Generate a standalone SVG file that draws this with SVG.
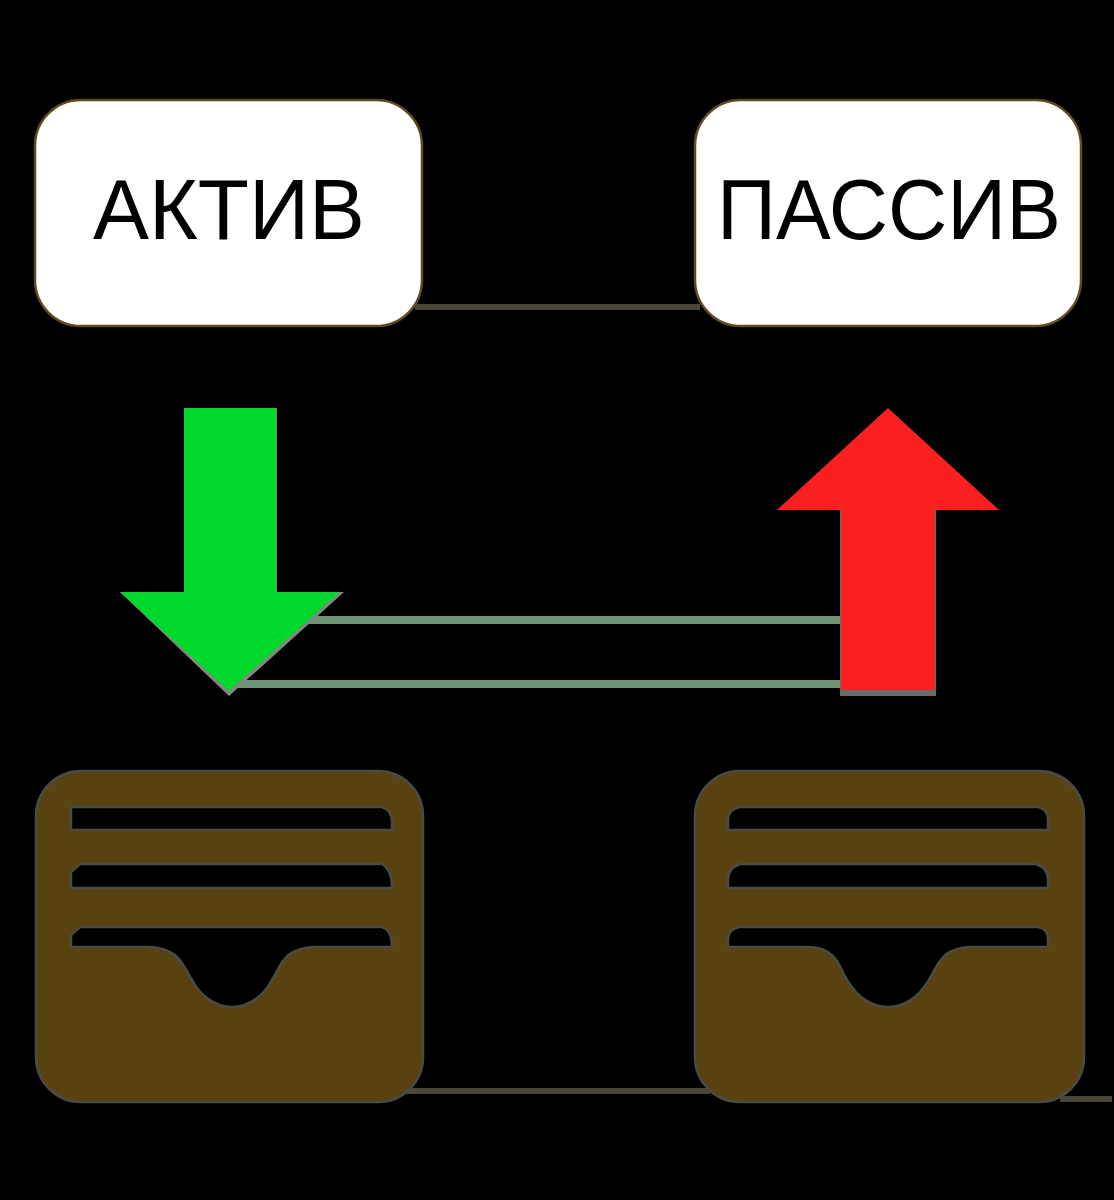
<svg xmlns="http://www.w3.org/2000/svg" width="1114" height="1200" viewBox="0 0 1114 1200">
<style>
.box{fill:#fff;stroke:#5e4c1c;stroke-width:2.5}
.lbl{font-family:"Liberation Sans",Arial,sans-serif;font-size:85px;fill:#000}
.wallet{fill:#584310;stroke:#4a4a46;stroke-width:2.5;fill-rule:evenodd}
.edge{fill:none;stroke:#4a4638;stroke-width:6}
.green{fill:none;stroke:#6d9275;stroke-width:8}
</style>
<rect width="1114" height="1200" fill="#000"/>
<g id="connectors">
<path class="edge" d="M415 307H700"/>
<path class="edge" d="M400 1091H710"/>
<path class="edge" d="M1060 1099H1112"/>
<path class="green" d="M300 620H845"/>
<path class="green" d="M225 684H845"/>
</g>
<g id="aktiv">
<rect class="box" x="35" y="100" width="387" height="226" rx="46"/>
<text class="lbl" x="93" y="239" textLength="272" lengthAdjust="spacingAndGlyphs">АКТИВ</text>
</g>
<g id="passiv">
<rect class="box" x="695" y="100" width="386" height="226" rx="46"/>
<text class="lbl" x="717" y="239" textLength="344" lengthAdjust="spacingAndGlyphs">ПАССИВ</text>
</g>
<g id="arrow-down">
<path d="M120 592H344L229 696Z" fill="#868686"/>
<path d="M184 408H277V592H184Z" fill="#868686"/>
<path d="M184 408H276V592H340L229 691L120 592H184Z" fill="#00d82b"/>
</g>
<g id="arrow-up">
<path d="M840 510H936V696H840Z" fill="#6a6a6a"/>
<path d="M888 408L999 510H935V690H841V510H777Z" fill="#fa2020"/>
</g>
<g id="wallet-left">
<path class="wallet" d="M81 771H378A45 45 0 0 1 423 816V1057A45 45 0 0 1 378 1102H81A45 45 0 0 1 36 1057V816A45 45 0 0 1 81 771Z
M71 807H382Q392 810 392 822V830H71Z
M80 864H382Q392 870 392 888H71V872Z
M80 927H382Q392 930 392 947H316C283 947 280 968 272 980C264 995 250 1007 232 1007C214 1007 200 995 192 980C184 968 180 947 147 947H71V935Z"/>
</g>
<g id="wallet-right">
<path class="wallet" d="M740 771H1039A45 45 0 0 1 1084 816V1057A45 45 0 0 1 1039 1102H740A45 45 0 0 1 695 1057V816A45 45 0 0 1 740 771Z
M740 807H1038Q1048 809 1048 820V830H728V820Q728 809 740 807Z
M740 864H1036Q1048 868 1048 880V888H728V880Q728 868 740 864Z
M740 927H1038Q1048 929 1048 939V947H972C940 947 937 968 929 980C920 995 906 1007 888 1007C870 1007 856 995 847 980C839 968 838 947 807 947H728V939Q728 929 740 927Z"/>
</g>
</svg>
